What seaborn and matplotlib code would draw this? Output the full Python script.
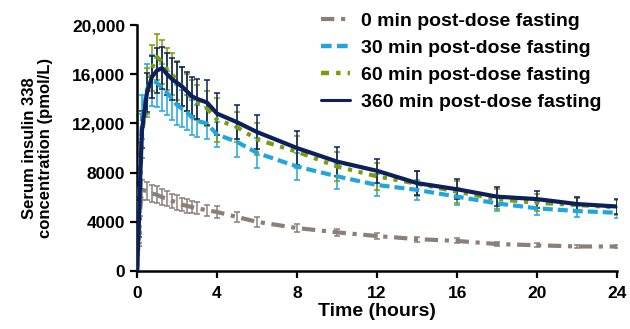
import matplotlib
matplotlib.use("Agg")
import matplotlib.pyplot as plt
import numpy as np
import pandas as pd
import seaborn as sns
from matplotlib.ticker import FuncFormatter

# Time points (hours)
times = [0, 0.083, 0.167, 0.25, 0.5, 0.75, 1, 1.25, 1.5, 1.75, 2, 2.25, 2.5, 2.75, 3, 3.5,
         4, 5, 6, 8, 10, 12, 14, 16, 18, 20, 22, 24]

groups = ["0 min post-dose fasting", "30 min post-dose fasting",
          "60 min post-dose fasting", "360 min post-dose fasting"]

# Mean serum insulin 338 (pmol/L)
mean_0 = [0, 2500, 5200, 6600, 6500, 6300, 6200, 6000, 5900, 5700, 5600, 5400, 5300, 5200, 5100, 4950,
          4800, 4400, 4000, 3500, 3150, 2850, 2600, 2450, 2200, 2100, 2000, 2000]
mean_30 = [0, 4000, 9000, 12500, 14800, 15500, 15300, 14900, 14500, 14000, 13500, 13200, 12900, 12500, 12200, 12000,
           11100, 10500, 9600, 8500, 7700, 7000, 6600, 6050, 5500, 5100, 4880, 4740]
mean_60 = [0, 3000, 7500, 11000, 14500, 16500, 17400, 17000, 16400, 16000, 15500, 15000, 14500, 14000, 13700, 13200,
           12300, 11700, 10700, 9700, 8500, 7700, 7100, 6450, 5850, 5550, 5370, 5180]
mean_360 = [0, 3500, 8000, 11500, 14500, 15800, 16300, 16500, 16000, 15600, 15300, 15000, 14600, 14200, 14000, 13700,
            12800, 12100, 11300, 10000, 8900, 8150, 7150, 6650, 6050, 5850, 5450, 5250]

# SEM
sem_0 = [0, 500, 700, 800, 750, 700, 700, 650, 650, 600, 600, 550, 550, 500, 500, 450,
         450, 400, 400, 300, 300, 250, 200, 200, 180, 180, 150, 150]
sem_30 = [0, 800, 1500, 1800, 2000, 2100, 2000, 1900, 1800, 1700, 1600, 1500, 1400, 1400, 1300, 1300,
          1000, 1250, 1200, 1100, 1000, 900, 800, 700, 600, 550, 450, 450]
sem_60 = [0, 700, 1500, 1800, 2000, 1900, 1900, 1800, 1700, 1700, 1600, 1600, 1500, 1500, 1400, 1400,
          1800, 1200, 1300, 1300, 1200, 1100, 1000, 900, 800, 700, 600, 600]
sem_360 = [0, 700, 1300, 1500, 1600, 1700, 1800, 1700, 1700, 1700, 1700, 1600, 1600, 1600, 1600, 1850,
           1700, 1400, 1400, 1400, 1150, 1000, 1000, 800, 750, 700, 600, 600]

colors = ["#8a8078", "#1fa6de", "#7b9c0a", "#0d1f5c"]
dashes = [(3.2, 1.6, 1, 1.6), (2.4, 1.2), (1.8, 1.6, 1, 1.6, 1, 1.6), ""]
widths = [3, 3.2, 3.2, 2.2]

means = [mean_0, mean_30, mean_60, mean_360]
sems = [sem_0, sem_30, sem_60, sem_360]

df = pd.concat([pd.DataFrame({"time": times, "conc": m, "sem": s, "group": g})
                for g, m, s in zip(groups, means, sems)], ignore_index=True)

sns.set_style("ticks")
plt.rcParams["font.family"] = ["Liberation Sans", "DejaVu Sans"]
plt.rcParams["font.weight"] = "bold"
plt.rcParams["text.color"] = "black"
plt.rcParams["axes.labelcolor"] = "black"
plt.rcParams["xtick.color"] = "black"
plt.rcParams["ytick.color"] = "black"
plt.rcParams["axes.edgecolor"] = "black"

fig = plt.figure(figsize=(6.3, 3.29), dpi=100)
ax = fig.add_axes([0.2175, 0.176, 0.762, 0.748])

# error bars first, lines on top
for g, c in zip(groups, colors):
    d = df[df["group"] == g]
    ax.errorbar(d["time"], d["conc"], yerr=d["sem"], fmt="none", ecolor=c,
                elinewidth=1.1, capsize=2.4, capthick=1.1, zorder=2)

sns.lineplot(data=df, x="time", y="conc", hue="group", style="group",
             hue_order=groups, style_order=groups, palette=colors, dashes=dashes,
             linewidth=3, ax=ax, legend=True, zorder=3)
for line, lw in zip(ax.lines[:4], widths):
    line.set_linewidth(lw)

ax.set_xlim(0, 24)
ax.set_ylim(0, 20000)
ax.set_xticks(range(0, 25, 4))
ax.set_yticks(range(0, 20001, 4000))
ax.yaxis.set_major_formatter(FuncFormatter(lambda v, p: f"{v:,.0f}" if v >= 10000 else f"{v:.0f}"))
ax.tick_params(labelsize=12.5, width=1.6, length=5, color="black", labelcolor="black")
ax.tick_params(axis="x", pad=6)
for lbl in ax.get_xticklabels() + ax.get_yticklabels():
    lbl.set_fontweight("bold")
for sp in ["left", "bottom"]:
    ax.spines[sp].set_linewidth(1.8)
sns.despine(ax=ax)

ax.set_xlabel("Time (hours)", fontsize=14, fontweight="bold", labelpad=1, color="black")
ax.set_ylabel("Serum insulin 338\nconcentration (pmol/L)", fontsize=12,
              fontweight="bold", labelpad=14, linespacing=1.05, color="black")

handles, labels = ax.get_legend_handles_labels()
for h, lw in zip(handles, widths):
    h.set_linewidth(lw)
leg = ax.legend(handles, labels, loc="upper left", bbox_to_anchor=(0.49, 1.0),
                bbox_transform=fig.transFigure, frameon=False, fontsize=14,
                handlelength=1.45, handletextpad=0.6, labelspacing=0.48, borderpad=0.15)
for t in leg.get_texts():
    t.set_fontweight("bold")
    t.set_color("black")

fig.savefig("out.png", dpi=100)
